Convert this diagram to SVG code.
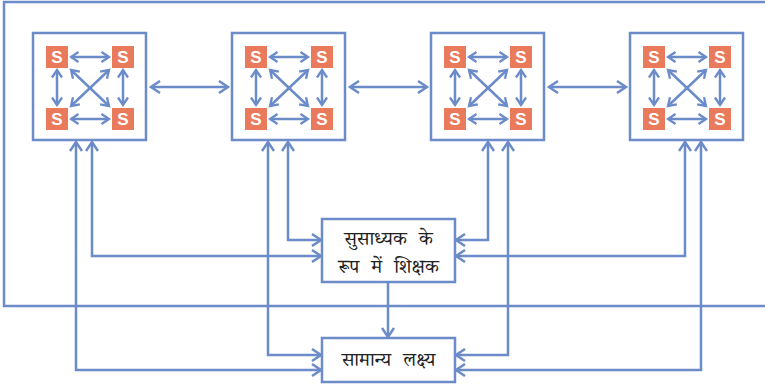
<svg xmlns="http://www.w3.org/2000/svg" width="765" height="387" viewBox="0 0 765 387">
<defs>
<style>
.ln{fill:none;stroke:#6b8bc9;stroke-width:2.5}
.bx{fill:#fff;stroke:#6b8bc9;stroke-width:2.5}
.sq{fill:#e97a5c}
.st{fill:#fff;font-family:"Liberation Sans",Arial,sans-serif;font-weight:bold;font-size:17px;text-anchor:middle}
.hi{fill:#222;font-family:"Noto Serif Devanagari","Noto Sans Devanagari","Lohit Devanagari","FreeSerif","Mangal",serif;font-size:19.5px;word-spacing:7px;text-anchor:middle}
.a{marker-start:url(#ah);marker-end:url(#ah)}
.as{marker-start:url(#ahs);marker-end:url(#ahs)}
</style>
<marker id="ah" markerUnits="userSpaceOnUse" markerWidth="14" markerHeight="14" viewBox="0 0 14 14" refX="11" refY="7" orient="auto-start-reverse">
<path d="M2,1 L11,7 L2,13" fill="none" stroke="#6b8bc9" stroke-width="2.5"/>
</marker>
<marker id="ahs" markerUnits="userSpaceOnUse" markerWidth="12" markerHeight="12" viewBox="0 0 12 12" refX="9.5" refY="6" orient="auto-start-reverse">
<path d="M2,1 L9.5,6 L2,11" fill="none" stroke="#6b8bc9" stroke-width="2.3"/>
</marker>
<g id="cluster">
<rect class="bx" x="0" y="0" width="113" height="107"/>
<rect class="sq" x="13" y="13" width="22" height="22"/>
<rect class="sq" x="79" y="13" width="22" height="22"/>
<rect class="sq" x="13" y="75" width="22" height="22"/>
<rect class="sq" x="79" y="75" width="22" height="22"/>
<text class="st" x="24" y="30">S</text>
<text class="st" x="90" y="30">S</text>
<text class="st" x="24" y="92">S</text>
<text class="st" x="90" y="92">S</text>
<line class="ln as" x1="38" y1="24" x2="76" y2="24"/>
<line class="ln as" x1="38" y1="86" x2="76" y2="86"/>
<line class="ln as" x1="24" y1="37" x2="24" y2="72"/>
<line class="ln as" x1="90" y1="37" x2="90" y2="72"/>
<line class="ln as" x1="38" y1="37" x2="76" y2="73"/>
<line class="ln as" x1="76" y1="37" x2="38" y2="73"/>
</g>
</defs>
<rect width="765" height="387" fill="#fff"/>
<path id="frame" class="ln" d="M766,2 H4 V306 H766"/>
<g id="connectors">
<line class="ln a" x1="151" y1="87" x2="228" y2="87"/>
<line class="ln a" x1="350" y1="87" x2="427" y2="87"/>
<line class="ln a" x1="549" y1="87" x2="626" y2="87"/>
<path class="ln a" d="M76,142 V370 H321"/>
<path class="ln a" d="M92,142 V256 H321"/>
<path class="ln a" d="M288,142 V240 H321"/>
<path class="ln a" d="M268,142 V355 H321"/>
<path class="ln a" d="M488,142 V240 H456"/>
<path class="ln a" d="M508,142 V355 H456"/>
<path class="ln a" d="M685,142 V256 H456"/>
<path class="ln a" d="M701,142 V370 H456"/>
<line class="ln" x1="388" y1="282" x2="388" y2="337" marker-end="url(#ah)"/>
</g>
<g id="group1"><use href="#cluster" x="33" y="33"/></g>
<g id="group2"><use href="#cluster" x="232" y="33"/></g>
<g id="group3"><use href="#cluster" x="431" y="33"/></g>
<g id="group4"><use href="#cluster" x="630" y="33"/></g>
<g id="facilitator">
<rect class="bx" x="322" y="219" width="133" height="63"/>
<text class="hi" x="388.5" y="245">सुसाध्यक के</text>
<text class="hi" x="388.5" y="273">रूप में शिक्षक</text>
</g>
<g id="goal">
<rect class="bx" x="322" y="338" width="133" height="44"/>
<text class="hi" x="388.5" y="366">सामान्य लक्ष्य</text>
</g>
</svg>
